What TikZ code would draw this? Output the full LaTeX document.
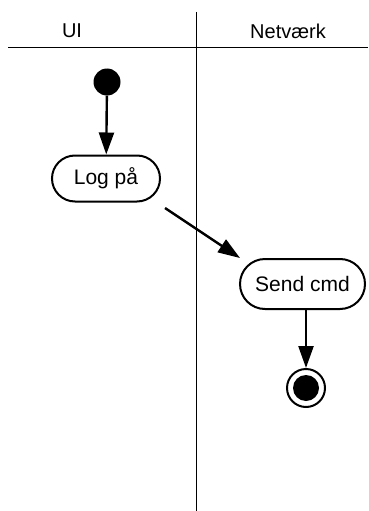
\documentclass[tikz,border=0pt]{standalone}
\usepackage{fontspec}
\setmainfont{Liberation Sans}
\usetikzlibrary{arrows.meta,shapes.misc}
\begin{document}
\begin{tikzpicture}[x=1pt,y=-1pt,
  lane/.style={line width=1pt},
  act/.style={draw,line width=2pt,rounded rectangle,font=\fontsize{21}{24}\selectfont,inner sep=0pt},
  flow/.style={line width=2.4pt,-{Triangle[length=22pt,width=15pt]}},
  lbl/.style={font=\fontsize{20}{24}\selectfont}]
\useasboundingbox (0,0) rectangle (368,511);
\draw[lane] (196,12) -- (196,511);
\draw[lane] (8,48) -- (368,48);
\node[lbl] (ui) at (72,31) {UI};
\node[lbl] (net) at (288,31) {Netværk};
\node[circle,fill=black,minimum size=27pt,inner sep=0pt] (start) at (107,82) {};
\node[act,minimum width=108pt,minimum height=46pt] (log) at (106,178.5) {Log på};
\node[act,minimum width=125pt,minimum height=50pt] (send) at (302.5,284) {Send cmd};
\node[circle,draw,line width=2pt,minimum size=38pt,inner sep=0pt] (end) at (306,388) {};
\node[circle,fill=black,minimum size=26pt,inner sep=0pt] (endin) at (end.center) {};
\coordinate (a) at (165,208);
\coordinate (b) at (240,258);
\draw[flow] (start) -- (log);
\draw[flow] (a) -- (b);
\draw[flow] (send.south -| end) -- (end);
\end{tikzpicture}
\end{document}
